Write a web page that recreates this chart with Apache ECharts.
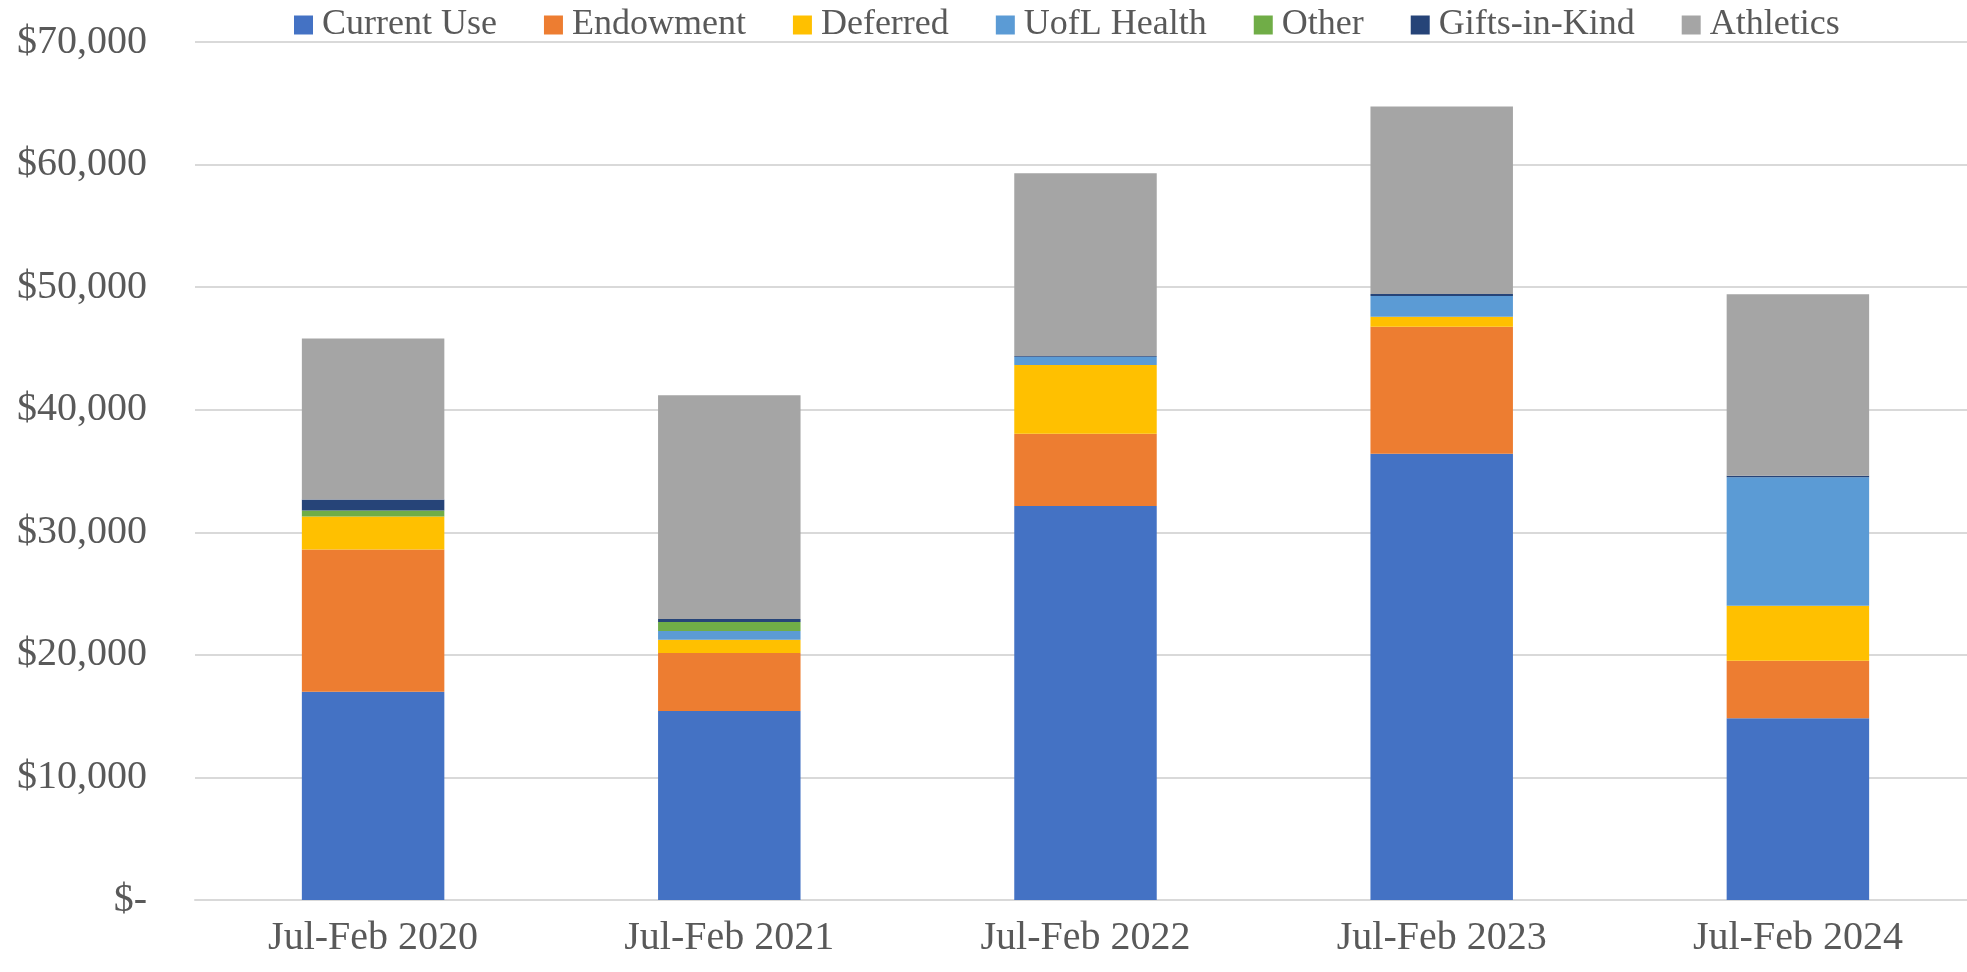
<!DOCTYPE html>
<html>
<head>
<meta charset="utf-8">
<script src="https://cdn.jsdelivr.net/npm/echarts@6/dist/echarts.min.js"></script>
<style>
html,body{margin:0;padding:0;background:#fff;}
#chart{width:1967px;height:972px;}
</style>
</head>
<body>
<div id="chart"></div>
<script>
const categories = ["Jul-Feb 2020", "Jul-Feb 2021", "Jul-Feb 2022", "Jul-Feb 2023", "Jul-Feb 2024"];
const currentUse = [17000, 15420, 32150, 36400, 14820];
const endowment = [11600, 4730, 5890, 10370, 4700];
const deferred = [2690, 1090, 5610, 820, 4490];
const uoflHealth = [0, 710, 680, 1690, 10480];
const other = [490, 730, 0, 0, 0];
const giftsInKind = [890, 250, 50, 160, 130];
const athletics = [13140, 18250, 14920, 15290, 14800];

const seriesDefs = [
  ["Current Use", currentUse, "#4472C4"],
  ["Endowment", endowment, "#ED7D31"],
  ["Deferred", deferred, "#FFC000"],
  ["UofL Health", uoflHealth, "#5B9BD5"],
  ["Other", other, "#70AD47"],
  ["Gifts-in-Kind", giftsInKind, "#264478"],
  ["Athletics", athletics, "#A5A5A5"]
];

const font = "Liberation Serif";
const chart = echarts.init(document.getElementById('chart'));
chart.setOption({
  animation: false,
  backgroundColor: '#ffffff',
  legend: {
    top: 2,
    left: 289,
    itemWidth: 19,
    itemHeight: 19,
    itemGap: 47,
    icon: 'rect',
    textStyle: { fontFamily: font, fontSize: 36, color: '#595959', padding: [0, 0, 0, 4] },
    data: seriesDefs.map(d => d[0])
  },
  grid: { left: 195, width: 1781, top: 42, bottom: 72, containLabel: false, outerBoundsMode: 'none' },
  xAxis: {
    type: 'category',
    data: categories,
    axisLine: { show: true, lineStyle: { color: '#d9d9d9', width: 2 } },
    axisTick: { show: false },
    axisLabel: { fontFamily: font, fontSize: 40, color: '#595959', margin: 18 }
  },
  yAxis: {
    type: 'value',
    min: 0,
    max: 70000,
    interval: 10000,
    axisLine: { show: false },
    axisTick: { show: false },
    splitLine: { lineStyle: { color: '#d9d9d9', width: 2 } },
    axisLabel: {
      fontFamily: font, fontSize: 40, color: '#595959', margin: 48,
      formatter: v => v === 0 ? '$-' : '$' + v.toLocaleString('en-US')
    }
  },
  series: seriesDefs.map(d => ({
    name: d[0],
    type: 'bar',
    stack: 'total',
    data: d[1],
    barWidth: '40%',
    itemStyle: { color: d[2] }
  }))
});
</script>
</body>
</html>
